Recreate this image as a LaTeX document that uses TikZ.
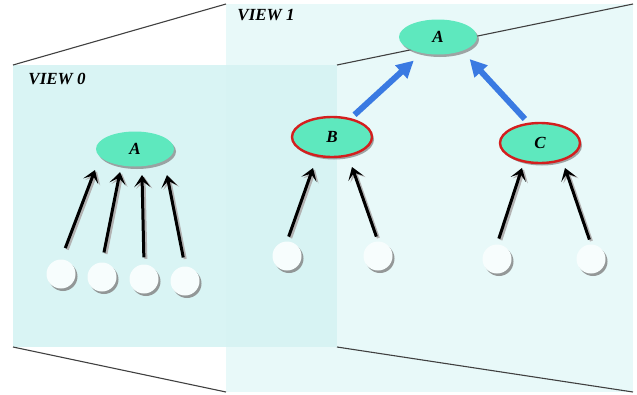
\documentclass[tikz,border=0pt]{standalone}
\usepackage{fontspec}
\setmainfont{Liberation Serif}
\usetikzlibrary{shapes.geometric,arrows.meta,shadows}

\definecolor{viewzero}{RGB}{214,243,243}
\definecolor{viewone}{RGB}{232,249,249}
\definecolor{nodegreen}{RGB}{94,232,190}
\definecolor{ringred}{RGB}{212,30,30}
\definecolor{upblue}{RGB}{58,122,226}

\begin{document}
\begin{tikzpicture}
  [x=1pt,y=-1pt,
   every node/.style={font=\fontsize{17}{19}\selectfont\bfseries\itshape},
   inner/.style={ellipse,fill=nodegreen,minimum width=78pt,minimum height=35pt,inner sep=0pt,
     drop shadow={shadow xshift=2pt,shadow yshift=-2.5pt,opacity=.7}},
   ring/.style={inner,draw=ringred,line width=2.4pt,minimum width=80pt,minimum height=40pt},
   leaf/.style={circle,fill=white!80!viewzero,minimum size=29pt,inner sep=0pt,
     drop shadow={shadow xshift=2pt,shadow yshift=-2.5pt,opacity=.8}},
   child/.style={-{Stealth[length=12pt,width=16pt,inset=6pt]},line width=3pt,
     preaction={draw=black!30,line width=3pt,transform canvas={shift={(2pt,-1.5pt)}}}},
   merge/.style={-{Triangle[length=17pt,width=17pt]},line width=6pt,upblue,
     shorten <=5pt,shorten >=11pt},
   guide/.style={draw=black!75,line width=1.1pt}]

  \useasboundingbox (0,0) rectangle (637,394);

  % corners of the two views
  \coordinate (p0nw) at (13,65);
  \coordinate (p0ne) at (337,65);
  \coordinate (p0sw) at (13,347);
  \coordinate (p0se) at (337,347);
  \coordinate (p1nw) at (226,4);
  \coordinate (p1ne) at (633,4);
  \coordinate (p1sw) at (226,392);
  \coordinate (p1se) at (633,392);

  \fill[viewone] (p1nw) rectangle (p1se);
  \fill[viewzero,opacity=.92] (p0nw) rectangle (p0se);
  \foreach \from/\to in {p0nw/p1nw,p0ne/p1ne,p0sw/p1sw,p0se/p1se}
    \draw[guide] (\from) -- (\to);

  \node (v0) at (57,79) {VIEW 0};
  \node (v1) at (266,15) {VIEW 1};

  % view 0
  \node[inner] (a0) at (135,149) {A};
  \node[leaf] (l1) at (61,274) {};
  \node[leaf] (l2) at (102,277) {};
  \node[leaf] (l3) at (144,279) {};
  \node[leaf] (l4) at (185,281) {};

  % view 1
  \node[inner] (a1) at (438,37) {A};
  \node[ring] (b) at (332,137) {B};
  \node[ring] (c) at (540,143) {C};
  \node[leaf] (m1) at (287,256) {};
  \node[leaf] (m2) at (378,256) {};
  \node[leaf] (m3) at (497,259) {};
  \node[leaf] (m4) at (591,259) {};

  % arrow tips below the inner nodes
  \coordinate (t1) at (95,170);
  \coordinate (t2) at (120,172);
  \coordinate (t3) at (142,175);
  \coordinate (t4) at (167,175);
  \coordinate (t5) at (313,168);
  \coordinate (t6) at (352,167);
  \coordinate (t7) at (522,168);
  \coordinate (t8) at (565,168);

  \foreach \from/\to/\gap in {l1/t1/12,l2/t2/10,l3/t3/7,l4/t4/9,
  m1/t5/5,m2/t6/5,m3/t7/6,m4/t8/5}
    \draw[child,shorten <=\gap pt] (\from.north) -- (\to);

  \draw[merge] (b.45) -- (a1.225);
  \draw[merge] (c.120) -- (a1.330);
\end{tikzpicture}
\end{document}
